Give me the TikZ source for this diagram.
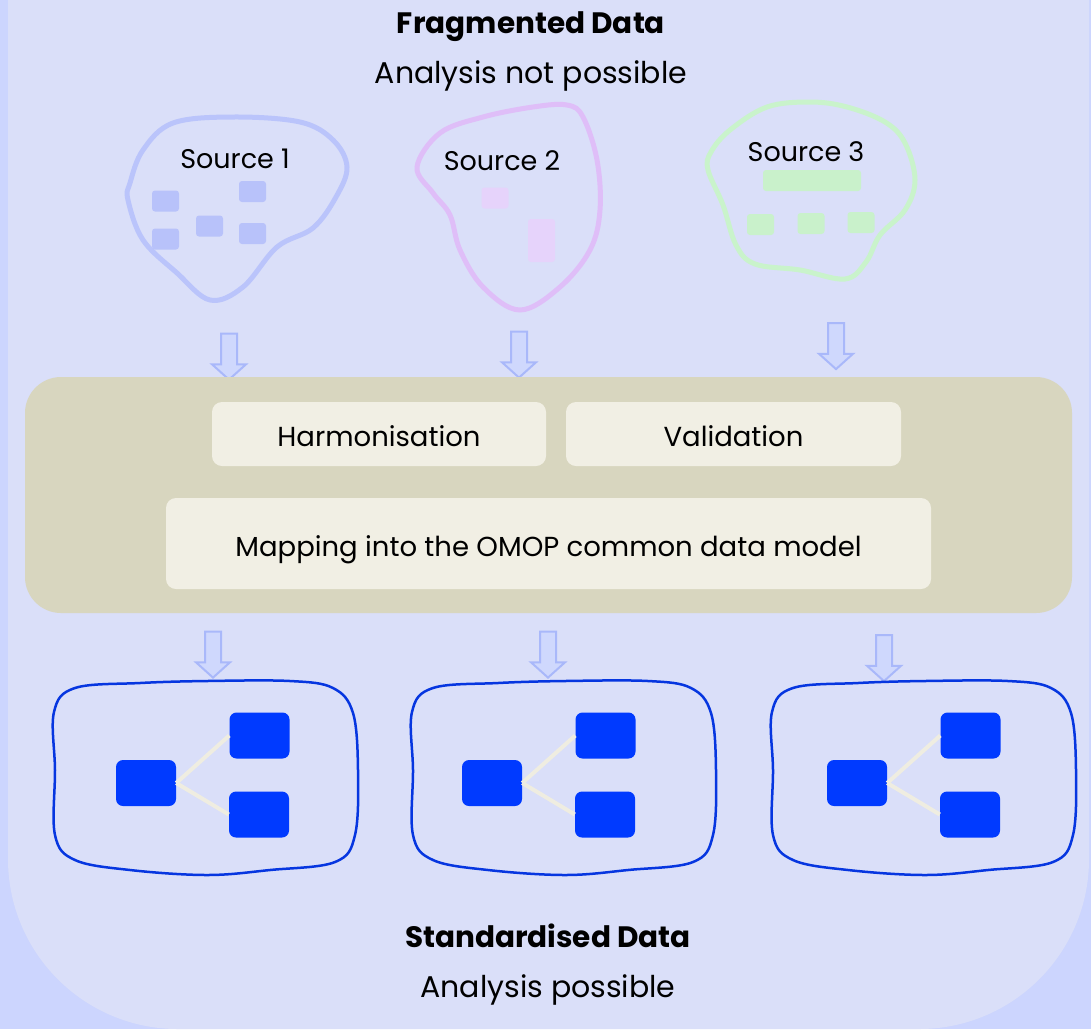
\documentclass[tikz,border=0pt]{standalone}
\usepackage{fontspec}
\setmainfont{Poppins}
\usepackage{xcolor}
\usepackage{tikz}
\usetikzlibrary{shapes.arrows}

\definecolor{outerbg}{HTML}{CCD5FE}
\definecolor{panelbg}{HTML}{DADFF9}
\definecolor{arrowfill}{HTML}{CFD8FD}
\definecolor{arrowline}{HTML}{A9B8FA}
\definecolor{srconeline}{HTML}{BAC4FB}
\definecolor{srconefill}{HTML}{B8C2FA}
\definecolor{srctwoline}{HTML}{DFBEF8}
\definecolor{srctwofill}{HTML}{E6D3FB}
\definecolor{srcthreeline}{HTML}{C9F3CB}
\definecolor{srcthreefill}{HTML}{C9F1CB}
\definecolor{procbg}{HTML}{D8D6BF}
\definecolor{stepbg}{HTML}{F1EFE4}
\definecolor{wobble}{HTML}{0636E0}
\definecolor{cdmblue}{HTML}{003AFF}
\definecolor{linkcream}{HTML}{EFEDE1}

\tikzset{
  downarrow/.style={single arrow, draw=arrowline, fill=arrowfill, line width=2pt,
    rotate=-90, minimum height=46pt, minimum width=34pt, inner sep=7pt,
    single arrow head extend=9pt, single arrow tip angle=96, single arrow head indent=0pt},
  stepbox/.style={fill=stepbg, rounded corners=10pt, text height=30pt, text depth=5pt,
    font=\fontsize{27.5}{32}\selectfont},
  srcbox/.style={rounded corners=3pt, minimum width=27pt, minimum height=21pt, inner sep=0pt},
  cdmbox/.style={fill=cdmblue, rounded corners=7pt, minimum width=60pt, minimum height=46pt, inner sep=0pt},
  srclabel/.style={anchor=base, font=\fontsize{27}{30}\selectfont},
  headline/.style={anchor=base, font=\fontsize{29.5}{32}\selectfont\bfseries},
  subline/.style={anchor=base, font=\fontsize{30}{34}\selectfont}
}

\begin{document}
\begin{tikzpicture}[x=1pt,y=-1pt]
\useasboundingbox (0,0) rectangle (1091,1029);
\fill[outerbg] (0,0) rectangle (1091,1029);
\fill[panelbg] (8,0) [rounded corners=170pt] -- (8,1029) -- (1089,1029) [sharp corners] -- (1089,0) -- cycle;

\node[headline] (fragtitle) at (531,33) {Fragmented Data};
\node[subline] (fragsub) at (531,83) {Analysis not possible};

\draw[srconeline, line width=5pt] plot[smooth cycle, tension=0.6] coordinates {
  (128,200) (143,240) (177,273) (210,300) (243,287) (277,247) (313,228)
  (336,197) (347,167) (333,140) (300,122) (233,117) (173,123) (143,150) (130,183)};
\node[srclabel] (src1) at (235,168) {Source 1};
\node[srcbox, fill=srconefill] (s1a) at (165.5,201) {};
\node[srcbox, fill=srconefill] (s1b) at (165.5,239) {};
\node[srcbox, fill=srconefill] (s1c) at (209.5,226) {};
\node[srcbox, fill=srconefill] (s1d) at (252.5,191.5) {};
\node[srcbox, fill=srconefill] (s1e) at (252.5,233.5) {};

\draw[srctwoline, line width=5pt] plot[smooth cycle, tension=0.6] coordinates {
  (417,167) (433,193) (450,215) (460,250) (483,287) (520,310) (560,287)
  (590,250) (600,210) (597,160) (583,117) (567,105) (533,107) (483,117) (440,133)};
\node[srclabel] (src2) at (502,170) {Source 2};
\node[srcbox, fill=srctwofill] (s2a) at (495,198) {};
\node[srcbox, fill=srctwofill, minimum height=43pt] (s2b) at (541.5,240.5) {};

\draw[srcthreeline, line width=5pt] plot[smooth cycle, tension=0.6] coordinates {
  (708,170) (723,205) (736,245) (755,264) (800,270) (845,279)
  (866,262) (880,235) (905,210) (915,180) (905,143) (885,122)
  (847,107) (810,102) (767,107) (730,130) (711,152)};
\node[srclabel] (src3) at (806,161) {Source 3};
\node[srcbox, fill=srcthreefill, minimum width=98pt] (s3a) at (812,180.5) {};
\node[srcbox, fill=srcthreefill] (s3b) at (760.5,224.5) {};
\node[srcbox, fill=srcthreefill] (s3c) at (811,223.5) {};
\node[srcbox, fill=srcthreefill] (s3d) at (861,222.5) {};

\node[downarrow] (in1) at (229,353) {};
\node[downarrow] (in2) at (519,351) {};
\node[downarrow] (in3) at (836,342.5) {};

\node[fill=procbg, rounded corners=36pt, minimum width=1047pt, minimum height=236pt] (proc) at (548.5,495) {};
\node[stepbox, minimum width=334pt, minimum height=64pt] (harm) at (379,434) {Harmonisation};
\node[stepbox, minimum width=335pt, minimum height=64pt] (valid) at (733.5,434) {Validation};
\node[stepbox, minimum width=765pt, minimum height=91pt] (mapping) at (548.5,543.5) {Mapping into the OMOP common data model};

\node[downarrow] (out1) at (213,651) {};
\node[downarrow] (out2) at (548,651) {};
\node[downarrow] (out3) at (884,654.5) {};

\foreach \bx/\sx/\n in {0/0/1, 358/346/2, 718/711/3} {
  \draw[wobble, line width=2.5pt, xshift=\bx pt] plot[smooth cycle, tension=0.6] coordinates {
    (54,712) (75,688) (140,683) (207,681) (290,681) (333,688) (353,713)
    (358,770) (355,835) (335,862) (270,870) (207,875) (130,870) (75,860)
    (55,835) (55,770)};
  \node[cdmbox] (root\n) at (146+\sx,783) {};
  \node[cdmbox] (top\n) at (259.5+\sx,735.5) {};
  \node[cdmbox] (bot\n) at (259+\sx,814.5) {};
  \draw[linkcream, line width=4pt] (root\n.east) -- (top\n.west);
  \draw[linkcream, line width=4pt] (root\n.east) -- (bot\n.west);
}

\node[headline] (stdtitle) at (548,947) {Standardised Data};
\node[subline] (stdsub) at (548,997) {Analysis possible};
\end{tikzpicture}
\end{document}
